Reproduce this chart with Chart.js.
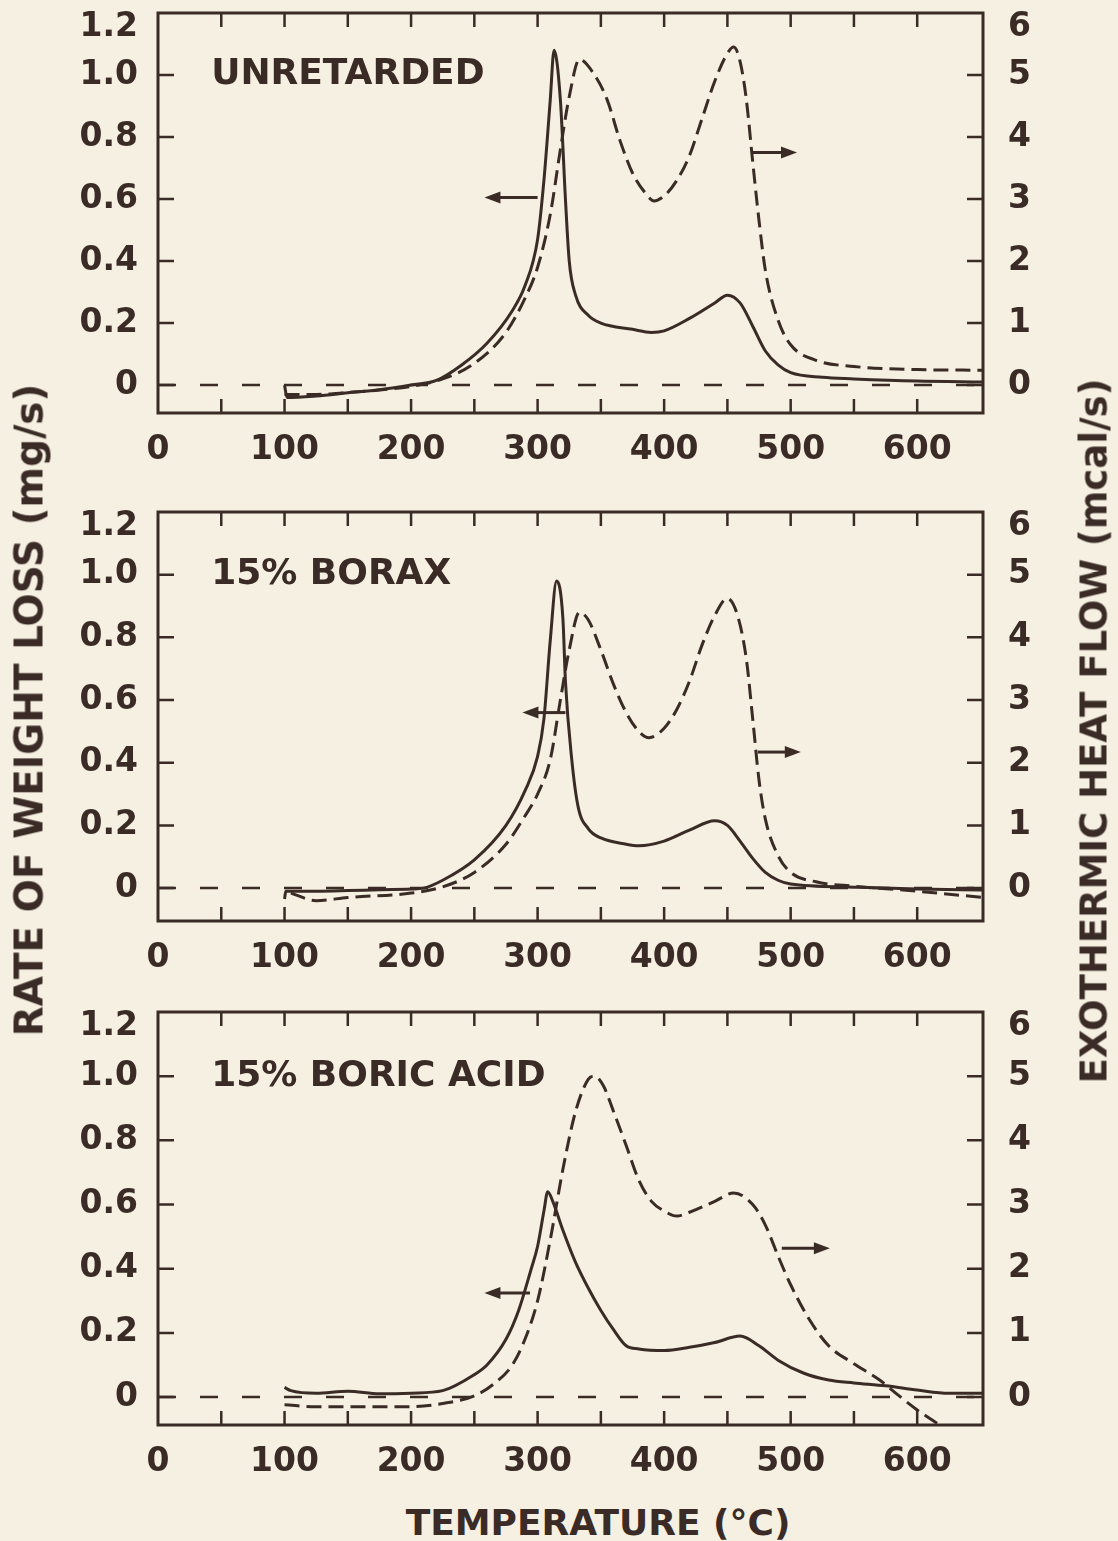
<!DOCTYPE html>
<html lang="en">
<head>
<meta charset="UTF-8">
<title>Rate of weight loss and exothermic heat flow</title>
<script src="https://cdn.jsdelivr.net/npm/chart.js"></script>
<style>
  html, body { margin: 0; padding: 0; background: #f5f0e1; }
  body {
    width: 1118px; height: 1541px; position: relative; overflow: hidden;
    font-family: 'DejaVu Sans', sans-serif; font-weight: bold; color: #3a2b27;
  }
  canvas { position: absolute; left: 0; }
  .title { position: absolute; white-space: nowrap; transform: translate(-50%, -50%); }
  .vert { transform: translate(-50%, -50%) rotate(-90deg); }
</style>
</head>
<body>
<canvas id="p1" width="1118" height="483" style="top:0px"></canvas>
<canvas id="p2" width="1118" height="509" style="top:482px"></canvas>
<canvas id="p3" width="1118" height="513" style="top:982px"></canvas>

<div class="title vert" style="left:29px; top:710px; font-size:39px;">RATE OF WEIGHT LOSS (mg/s)</div>
<div class="title vert" style="left:1094px; top:731px; font-size:37px;">EXOTHERMIC HEAT FLOW (mcal/s)</div>
<div class="title" style="left:598px; top:1522px; font-size:36px;">TEMPERATURE (°C)</div>

<script>
// axes
const xTicks = [0, 50, 100, 150, 200, 250, 300, 350, 400, 450, 500, 550, 600];
const yLeftTicks = [0, 0.2, 0.4, 0.6, 0.8, 1.0, 1.2];
const yRightTicks = [0, 1, 2, 3, 4, 5, 6];
const X_MAX = 652;

// unretarded: weight loss (mg/s) and heat flow (mcal/s)
const unretLossT = [100, 102, 125, 150, 175, 200, 220, 240, 260, 280, 290, 300, 305, 310, 313, 318, 322, 325, 330, 340, 350, 375, 390, 400, 420, 440, 450, 460, 470, 480, 490, 500, 525, 550, 600, 652];
const unretLoss = [0, -0.04, -0.035, -0.025, -0.015, 0.0, 0.015, 0.065, 0.135, 0.24, 0.32, 0.47, 0.66, 0.92, 1.08, 0.92, 0.6, 0.4, 0.29, 0.225, 0.2, 0.18, 0.17, 0.175, 0.215, 0.265, 0.29, 0.265, 0.19, 0.11, 0.065, 0.04, 0.025, 0.02, 0.013, 0.01];
const unretHeatT = [100, 125, 150, 175, 200, 225, 250, 275, 290, 300, 310, 318, 325, 333, 345, 355, 365, 375, 385, 392, 400, 410, 420, 430, 440, 450, 455, 460, 465, 470, 475, 480, 490, 500, 520, 550, 600, 652];
const unretHeat = [-0.15, -0.15, -0.12, -0.08, -0.02, 0.1, 0.35, 0.85, 1.4, 1.9, 2.75, 3.8, 4.65, 5.25, 5.0, 4.6, 3.95, 3.42, 3.1, 2.97, 3.05, 3.3, 3.7, 4.3, 4.9, 5.35, 5.45, 5.22, 4.6, 3.6, 2.65, 1.85, 1.05, 0.65, 0.4, 0.3, 0.25, 0.24];

// 15% borax
const boraxLossT = [100, 101, 125, 150, 175, 200, 210, 225, 250, 275, 290, 300, 305, 310, 315, 320, 322, 327, 332, 340, 350, 370, 380, 400, 420, 440, 450, 460, 470, 480, 490, 500, 550, 600, 652];
const boraxLoss = [-0.035, -0.01, -0.01, -0.008, -0.005, -0.003, 0.0, 0.025, 0.09, 0.2, 0.31, 0.42, 0.54, 0.79, 0.98, 0.86, 0.66, 0.41, 0.26, 0.19, 0.16, 0.14, 0.135, 0.15, 0.185, 0.215, 0.2, 0.15, 0.095, 0.05, 0.025, 0.013, 0.003, -0.003, -0.006];
const boraxHeatT = [105, 125, 150, 200, 225, 250, 275, 290, 300, 310, 318, 325, 333, 340, 350, 360, 370, 380, 388, 400, 410, 420, 430, 440, 450, 458, 465, 470, 475, 480, 490, 500, 520, 550, 600, 652];
const boraxHeat = [-0.08, -0.2, -0.15, -0.08, 0.02, 0.25, 0.7, 1.15, 1.5, 2.05, 3.0, 3.8, 4.4, 4.28, 3.8, 3.25, 2.8, 2.5, 2.4, 2.55, 2.85, 3.3, 3.88, 4.35, 4.62, 4.35, 3.65, 2.7, 1.72, 1.1, 0.52, 0.25, 0.1, 0.03, -0.05, -0.15];

// 15% boric acid
const boricLossT = [100, 105, 125, 150, 175, 200, 225, 250, 260, 275, 285, 295, 300, 305, 308, 312, 320, 330, 340, 350, 360, 370, 380, 400, 420, 440, 460, 475, 490, 510, 530, 550, 575, 600, 625, 652];
const boricLoss = [0.03, 0.02, 0.012, 0.018, 0.01, 0.012, 0.02, 0.07, 0.1, 0.18, 0.27, 0.4, 0.47, 0.58, 0.64, 0.61, 0.52, 0.42, 0.34, 0.27, 0.21, 0.16, 0.15, 0.145, 0.155, 0.17, 0.19, 0.16, 0.115, 0.075, 0.053, 0.044, 0.035, 0.022, 0.012, 0.012];
const boricHeatT = [100, 125, 150, 200, 225, 250, 265, 280, 290, 300, 310, 320, 330, 340, 345, 352, 360, 370, 380, 390, 400, 410, 420, 440, 455, 470, 480, 490, 500, 515, 530, 550, 570, 585, 600, 615, 630, 652];
const boricHeat = [-0.12, -0.15, -0.15, -0.15, -0.1, 0.02, 0.2, 0.5, 0.9, 1.5, 2.45, 3.55, 4.45, 4.95, 5.0, 4.85, 4.45, 3.92, 3.38, 3.05, 2.9, 2.82, 2.88, 3.05, 3.18, 3.0, 2.68, 2.2, 1.75, 1.2, 0.8, 0.52, 0.27, 0.03, -0.2, -0.4, -0.6, -0.85];

const INK = '#3a2b27';
const TOP_LEFT = yLeftTicks[yLeftTicks.length - 1];
const TOP_RIGHT = yRightTicks[yRightTicks.length - 1];
const fmtLeft = v => (v === 0 ? '0' : v.toFixed(1));

Chart.defaults.font.family = "'DejaVu Sans', sans-serif";
Chart.defaults.font.weight = 'bold';
Chart.defaults.font.size = 33;
Chart.defaults.color = INK;

// frame, inward ticks, top tick labels (set a little below the corner), panel label, arrows
const decor = {
  id: 'decor',
  afterDatasetsDraw(chart, args, opts) {
    const { ctx, chartArea: a, scales } = chart;
    ctx.save();
    ctx.strokeStyle = INK;
    ctx.fillStyle = INK;
    ctx.lineWidth = 3;
    ctx.strokeRect(a.left, a.top, a.right - a.left, a.bottom - a.top);

    ctx.lineWidth = 2.5;
    ctx.beginPath();
    scales.x.ticks.forEach(t => {
      if (t.value <= 0) return;
      const px = scales.x.getPixelForValue(t.value);
      ctx.moveTo(px, a.bottom); ctx.lineTo(px, a.bottom - 14);
      ctx.moveTo(px, a.top); ctx.lineTo(px, a.top + 14);
    });
    scales.y.ticks.forEach(t => {
      if (t.value >= TOP_LEFT) return;
      const py = scales.y.getPixelForValue(t.value);
      ctx.moveTo(a.left, py); ctx.lineTo(a.left + 16, py);
    });
    scales.y2.ticks.forEach(t => {
      if (t.value >= TOP_RIGHT) return;
      const py = scales.y2.getPixelForValue(t.value);
      ctx.moveTo(a.right, py); ctx.lineTo(a.right - 16, py);
    });
    ctx.stroke();

    ctx.font = "bold 33px 'DejaVu Sans', sans-serif";
    ctx.textBaseline = 'middle';
    ctx.textAlign = 'right';
    ctx.fillText(fmtLeft(TOP_LEFT), a.left - 20, scales.y.getPixelForValue(TOP_LEFT) + 14);
    ctx.textAlign = 'left';
    ctx.fillText(String(TOP_RIGHT), a.right + 25, scales.y2.getPixelForValue(TOP_RIGHT) + 14);

    ctx.font = "bold 36px 'DejaVu Sans', sans-serif";
    ctx.fillText(opts.label, scales.x.getPixelForValue(42), scales.y.getPixelForValue(1.0));

    ctx.lineWidth = 3;
    opts.arrows.forEach(ar => {
      const x1 = scales.x.getPixelForValue(ar.from);
      const x2 = scales.x.getPixelForValue(ar.to);
      const y = scales.y.getPixelForValue(ar.y);
      const dir = Math.sign(x2 - x1);
      ctx.beginPath();
      ctx.moveTo(x1, y); ctx.lineTo(x2 - dir * 12, y);
      ctx.stroke();
      ctx.beginPath();
      ctx.moveTo(x2, y);
      ctx.lineTo(x2 - dir * 16, y - 6);
      ctx.lineTo(x2 - dir * 16, y + 6);
      ctx.closePath();
      ctx.fill();
    });
    ctx.restore();
  }
};

function pts(ts, vs) {
  return ts.map((t, i) => ({ x: t, y: vs[i] }));
}

function buildPanel(id, p) {
  return new Chart(document.getElementById(id), {
    type: 'line',
    data: {
      datasets: [
        { data: [{ x: 0, y: 0 }, { x: X_MAX, y: 0 }], yAxisID: 'y', borderColor: INK,
          borderWidth: 2.5, borderDash: [18, 24], pointRadius: 0 },
        { label: 'Rate of weight loss', data: pts(p.lossT, p.loss), yAxisID: 'y', borderColor: INK,
          borderWidth: 3, pointRadius: 0, cubicInterpolationMode: 'monotone' },
        { label: 'Exothermic heat flow', data: pts(p.heatT, p.heat), yAxisID: 'y2', borderColor: INK,
          borderWidth: 3, borderDash: [15, 7], pointRadius: 0, cubicInterpolationMode: 'monotone' }
      ]
    },
    options: {
      responsive: false,
      animation: false,
      events: [],
      layout: { padding: { top: p.padTop, left: 0, right: 0, bottom: 0 } },
      plugins: {
        legend: { display: false },
        tooltip: { enabled: false },
        decor: { label: p.label, arrows: p.arrows }
      },
      scales: {
        x: {
          type: 'linear', min: 0, max: X_MAX,
          grid: { display: false, drawTicks: false },
          border: { display: false },
          afterBuildTicks: s => { s.ticks = xTicks.map(v => ({ value: v })); },
          afterFit: s => { s.height = 70; s.paddingLeft = 0; s.paddingRight = 0; },
          ticks: {
            padding: 18, maxRotation: 0, autoSkip: false,
            callback: v => (v % 100 === 0 ? String(v) : '')
          }
        },
        y: {
          position: 'left', min: p.yMin, max: TOP_LEFT,
          grid: { display: false, drawTicks: false },
          border: { display: false },
          afterBuildTicks: s => { s.ticks = yLeftTicks.map(v => ({ value: v })); },
          afterFit: s => { s.width = 158; s.paddingTop = 0; s.paddingBottom = 0; },
          ticks: { padding: 20, callback: v => (v === TOP_LEFT ? '' : fmtLeft(v)) }
        },
        y2: {
          position: 'right', min: p.yMin * 5, max: TOP_RIGHT,
          grid: { display: false, drawTicks: false },
          border: { display: false },
          afterBuildTicks: s => { s.ticks = yRightTicks.map(v => ({ value: v })); },
          afterFit: s => { s.width = 135; s.paddingTop = 0; s.paddingBottom = 0; },
          ticks: { padding: 25, callback: v => (v === TOP_RIGHT ? '' : String(v)) }
        }
      }
    },
    plugins: [decor]
  });
}

buildPanel('p1', {
  label: 'UNRETARDED', yMin: -0.09, padTop: 13,
  lossT: unretLossT, loss: unretLoss, heatT: unretHeatT, heat: unretHeat,
  arrows: [{ from: 300, to: 258, y: 0.605 }, { from: 470, to: 505, y: 0.75 }]
});
buildPanel('p2', {
  label: '15% BORAX', yMin: -0.105, padTop: 30,
  lossT: boraxLossT, loss: boraxLoss, heatT: boraxHeatT, heat: boraxHeat,
  arrows: [{ from: 322, to: 288, y: 0.56 }, { from: 474, to: 508, y: 0.434 }]
});
buildPanel('p3', {
  label: '15% BORIC ACID', yMin: -0.087, padTop: 30,
  lossT: boricLossT, loss: boricLoss, heatT: boricHeatT, heat: boricHeat,
  arrows: [{ from: 294, to: 258, y: 0.324 }, { from: 493, to: 531, y: 0.464 }]
});
</script>
</body>
</html>
